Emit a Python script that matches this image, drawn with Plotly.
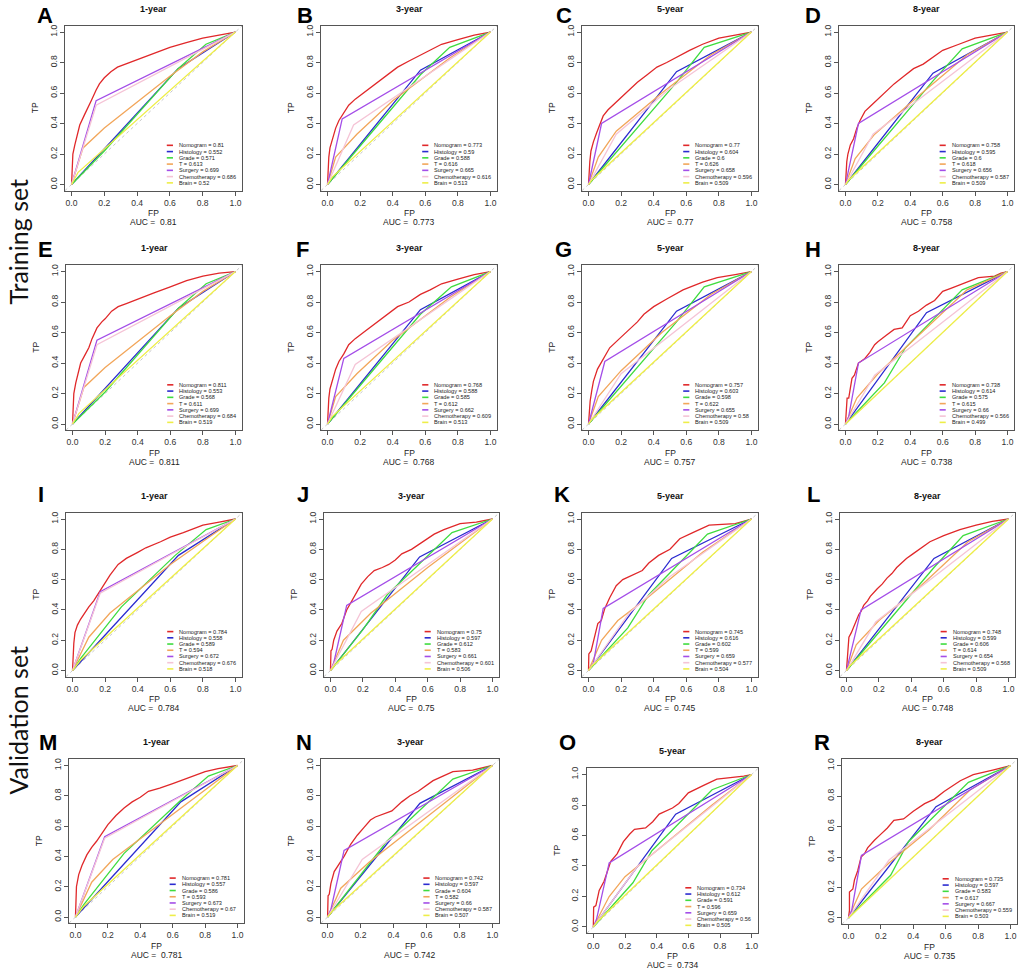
import plotly.graph_objects as go

# ---------------- data ----------------
series_names = ["Nomogram", "Histology", "Grade", "T", "Surgery", "Chemotherapy", "Brain"]
years = ["1-year", "3-year", "5-year", "8-year"]
panel_ids = ["A", "B", "C", "D", "E", "F", "G", "H", "I", "J", "K", "L", "M", "N", "O", "R"]
tick_vals = [0, 0.2, 0.4, 0.6, 0.8, 1.0]
tick_text = ["0.0", "0.2", "0.4", "0.6", "0.8", "1.0"]

auc_A = [0.81, 0.552, 0.571, 0.613, 0.699, 0.686, 0.52]
auc_B = [0.773, 0.59, 0.588, 0.616, 0.665, 0.616, 0.513]
auc_C = [0.77, 0.604, 0.6, 0.626, 0.658, 0.596, 0.509]
auc_D = [0.758, 0.595, 0.6, 0.618, 0.656, 0.587, 0.509]
auc_E = [0.811, 0.553, 0.568, 0.611, 0.699, 0.684, 0.519]
auc_F = [0.768, 0.588, 0.585, 0.612, 0.662, 0.609, 0.513]
auc_G = [0.757, 0.603, 0.598, 0.622, 0.655, 0.58, 0.509]
auc_H = [0.738, 0.614, 0.575, 0.615, 0.66, 0.566, 0.499]
auc_I = [0.784, 0.558, 0.589, 0.594, 0.672, 0.676, 0.518]
auc_J = [0.75, 0.597, 0.612, 0.583, 0.661, 0.601, 0.506]
auc_K = [0.745, 0.616, 0.602, 0.599, 0.659, 0.577, 0.504]
auc_L = [0.748, 0.599, 0.606, 0.614, 0.654, 0.568, 0.509]
auc_M = [0.781, 0.557, 0.586, 0.593, 0.673, 0.67, 0.519]
auc_N = [0.742, 0.597, 0.604, 0.582, 0.66, 0.587, 0.507]
auc_O = [0.734, 0.612, 0.591, 0.596, 0.659, 0.56, 0.505]
auc_R = [0.735, 0.597, 0.583, 0.617, 0.667, 0.559, 0.503]

# ROC curves as (FP, TP) points
A_nom = [(0,0),(0.003,0.1),(0.008,0.2),(0.02,0.26),(0.035,0.33),(0.05,0.39),(0.08,0.46),(0.1,0.5),(0.12,0.55),(0.15,0.62),(0.17,0.66),(0.2,0.7),(0.24,0.74),(0.28,0.77),(0.33,0.79),(0.4,0.82),(0.5,0.86),(0.6,0.9),(0.7,0.93),(0.8,0.96),(0.9,0.98),(1,1)]
A_his = [(0,0),(0.65,0.76),(1,1)]
A_gra = [(0,0),(0.2,0.22),(0.65,0.76),(0.82,0.92),(1,1)]
A_t = [(0,0),(0.07,0.24),(0.2,0.37),(0.6,0.71),(0.8,0.87),(1,1)]
A_sur = [(0,0),(0.15,0.55),(1,1)]
A_che = [(0,0),(0.15,0.52),(1,1)]
A_bra = [(0,0),(0.04,0.08),(1,1)]

B_nom = [(0,0),(0.003,0.1),(0.008,0.18),(0.015,0.24),(0.03,0.3),(0.05,0.37),(0.07,0.42),(0.1,0.47),(0.13,0.52),(0.17,0.56),(0.22,0.6),(0.27,0.64),(0.32,0.68),(0.38,0.73),(0.43,0.77),(0.5,0.81),(0.57,0.85),(0.63,0.88),(0.7,0.92),(0.8,0.95),(0.9,0.98),(1,1)]
B_his = [(0,0),(0.57,0.75),(1,1)]
B_gra = [(0,0),(0.57,0.72),(0.75,0.9),(1,1)]
B_t = [(0,0),(0.05,0.18),(0.18,0.33),(0.4,0.55),(0.75,0.83),(1,1)]
B_sur = [(0,0),(0.09,0.43),(1,1)]
B_che = [(0,0),(0.16,0.39),(1,1)]
B_bra = [(0,0),(0.03,0.05),(1,1)]

C_nom = [(0,0),(0.003,0.08),(0.008,0.15),(0.015,0.22),(0.03,0.28),(0.05,0.34),(0.07,0.4),(0.09,0.45),(0.12,0.49),(0.16,0.53),(0.2,0.57),(0.25,0.62),(0.3,0.67),(0.36,0.72),(0.42,0.77),(0.48,0.8),(0.55,0.84),(0.62,0.88),(0.7,0.92),(0.8,0.96),(0.9,0.98),(1,1)]
C_his = [(0,0),(0.54,0.74),(1,1)]
C_gra = [(0,0),(0.54,0.67),(0.71,0.9),(1,1)]
C_t = [(0,0),(0.06,0.18),(0.17,0.35),(0.45,0.6),(0.75,0.85),(1,1)]
C_sur = [(0,0),(0.08,0.4),(1,1)]
C_che = [(0,0),(0.17,0.33),(0.5,0.63),(1,1)]
C_bra = [(0,0),(0.02,0.03),(1,1)]

D_nom = [(0,0),(0.003,0.08),(0.008,0.15),(0.015,0.2),(0.03,0.26),(0.05,0.3),(0.07,0.37),(0.09,0.42),(0.12,0.48),(0.16,0.52),(0.2,0.56),(0.25,0.61),(0.3,0.66),(0.36,0.71),(0.42,0.76),(0.48,0.79),(0.55,0.84),(0.6,0.88),(0.7,0.92),(0.8,0.96),(0.9,0.98),(1,1)]
D_his = [(0,0),(0.54,0.73),(1,1)]
D_gra = [(0,0),(0.54,0.68),(0.72,0.89),(1,1)]
D_t = [(0,0),(0.06,0.17),(0.18,0.33),(0.45,0.58),(0.75,0.85),(1,1)]
D_sur = [(0,0),(0.08,0.4),(1,1)]
D_che = [(0,0),(0.17,0.33),(1,1)]
D_bra = [(0,0),(0.02,0.03),(1,1)]

E_nom = [(0,0),(0.003,0.1),(0.008,0.2),(0.02,0.27),(0.035,0.34),(0.05,0.4),(0.08,0.46),(0.1,0.5),(0.12,0.56),(0.15,0.63),(0.18,0.67),(0.2,0.69),(0.24,0.74),(0.28,0.77),(0.33,0.79),(0.4,0.82),(0.5,0.86),(0.6,0.9),(0.7,0.94),(0.8,0.97),(0.9,0.99),(1,1)]
E_his = [(0,0),(0.65,0.76),(1,1)]
E_gra = [(0,0),(0.2,0.21),(0.65,0.76),(0.82,0.92),(1,1)]
E_t = [(0,0),(0.07,0.24),(0.2,0.37),(0.6,0.71),(0.8,0.87),(1,1)]
E_sur = [(0,0),(0.15,0.55),(1,1)]
E_che = [(0,0),(0.15,0.52),(1,1)]
E_bra = [(0,0),(0.04,0.07),(1,1)]

F_nom = [(0,0),(0.003,0.09),(0.008,0.17),(0.015,0.23),(0.03,0.29),(0.05,0.36),(0.07,0.41),(0.1,0.46),(0.13,0.52),(0.17,0.56),(0.22,0.6),(0.27,0.64),(0.32,0.68),(0.38,0.73),(0.43,0.77),(0.5,0.8),(0.57,0.85),(0.63,0.88),(0.7,0.92),(0.8,0.95),(0.9,0.98),(1,1)]
F_his = [(0,0),(0.57,0.75),(1,1)]
F_gra = [(0,0),(0.57,0.72),(0.76,0.9),(1,1)]
F_t = [(0,0),(0.05,0.18),(0.18,0.33),(0.4,0.55),(0.75,0.83),(1,1)]
F_sur = [(0,0),(0.1,0.43),(1,1)]
F_che = [(0,0),(0.17,0.39),(1,1)]
F_bra = [(0,0),(0.03,0.05),(1,1)]

G_nom = [(0,0),(0.003,0.07),(0.01,0.15),(0.02,0.22),(0.03,0.28),(0.055,0.36),(0.08,0.41),(0.1,0.45),(0.13,0.5),(0.19,0.56),(0.25,0.62),(0.3,0.67),(0.34,0.72),(0.4,0.77),(0.48,0.82),(0.58,0.88),(0.7,0.93),(0.79,0.96),(0.9,0.98),(1,1)]
G_his = [(0,0),(0.54,0.74),(1,1)]
G_gra = [(0,0),(0.54,0.67),(0.71,0.9),(1,1)]
G_t = [(0,0),(0.06,0.18),(0.2,0.35),(0.45,0.6),(0.75,0.85),(1,1)]
G_sur = [(0,0),(0.1,0.41),(1,1)]
G_che = [(0,0),(0.2,0.33),(1,1)]
G_bra = [(0,0),(0.02,0.03),(1,1)]

H_nom = [(0,0),(0.005,0.07),(0.01,0.17),(0.02,0.17),(0.03,0.25),(0.04,0.3),(0.055,0.32),(0.07,0.37),(0.08,0.4),(0.12,0.43),(0.15,0.47),(0.18,0.52),(0.2,0.54),(0.25,0.58),(0.3,0.62),(0.35,0.63),(0.38,0.68),(0.4,0.71),(0.45,0.74),(0.5,0.78),(0.55,0.81),(0.6,0.87),(0.65,0.89),(0.7,0.91),(0.75,0.93),(0.82,0.96),(0.92,0.97),(0.96,0.99),(1,1)]
H_his = [(0,0),(0.5,0.73),(1,1)]
H_gra = [(0,0),(0.24,0.27),(0.37,0.5),(0.72,0.88),(1,1)]
H_t = [(0,0),(0.07,0.17),(0.2,0.33),(0.45,0.58),(0.75,0.88),(1,1)]
H_sur = [(0,0),(0.02,0.05),(0.08,0.4),(1,1)]
H_che = [(0,0),(0.18,0.32),(1,1)]
H_bra = [(0,0),(1,1)]

I_nom = [(0,0),(0.003,0.1),(0.008,0.18),(0.015,0.25),(0.03,0.3),(0.05,0.34),(0.08,0.39),(0.1,0.42),(0.13,0.46),(0.17,0.53),(0.2,0.58),(0.23,0.63),(0.28,0.7),(0.33,0.74),(0.4,0.78),(0.45,0.81),(0.54,0.85),(0.6,0.88),(0.68,0.91),(0.8,0.96),(0.9,0.98),(1,1)]
I_his = [(0,0),(0.65,0.76),(1,1)]
I_gra = [(0,0),(0.05,0.08),(0.3,0.42),(0.63,0.76),(0.82,0.93),(1,1)]
I_t = [(0,0),(0.1,0.22),(0.23,0.38),(0.6,0.7),(0.85,0.89),(1,1)]
I_sur = [(0,0),(0.17,0.52),(1,1)]
I_che = [(0,0),(0.17,0.51),(1,1)]
I_bra = [(0,0),(0.05,0.07),(1,1)]

J_nom = [(0,0),(0.003,0.13),(0.01,0.14),(0.02,0.2),(0.04,0.26),(0.07,0.31),(0.1,0.4),(0.13,0.46),(0.16,0.52),(0.19,0.57),(0.23,0.62),(0.27,0.66),(0.32,0.68),(0.36,0.7),(0.4,0.73),(0.44,0.77),(0.5,0.8),(0.54,0.83),(0.6,0.87),(0.64,0.9),(0.7,0.93),(0.8,0.97),(0.9,0.98),(1,1)]
J_his = [(0,0),(0.55,0.75),(1,1)]
J_gra = [(0,0),(0.2,0.27),(0.35,0.5),(0.75,0.91),(1,1)]
J_t = [(0,0),(0.08,0.2),(0.25,0.38),(0.6,0.68),(1,1)]
J_sur = [(0,0),(0.02,0.05),(0.1,0.43),(1,1)]
J_che = [(0,0),(0.19,0.39),(1,1)]
J_bra = [(0,0),(0.03,0.04),(1,1)]

K_nom = [(0,0),(0.002,0.11),(0.016,0.13),(0.037,0.22),(0.057,0.31),(0.078,0.33),(0.1,0.41),(0.13,0.48),(0.17,0.56),(0.21,0.6),(0.27,0.63),(0.33,0.66),(0.37,0.71),(0.43,0.76),(0.5,0.8),(0.56,0.87),(0.64,0.91),(0.74,0.96),(0.9,0.97),(1,1)]
K_his = [(0,0),(0.51,0.74),(1,1)]
K_gra = [(0,0),(0.24,0.28),(0.37,0.5),(0.73,0.9),(1,1)]
K_t = [(0,0),(0.08,0.2),(0.18,0.33),(0.35,0.47),(0.7,0.78),(1,1)]
K_sur = [(0,0),(0.03,0.05),(0.09,0.41),(1,1)]
K_che = [(0,0),(0.25,0.38),(0.5,0.62),(1,1)]
K_bra = [(0,0),(0.02,0.03),(1,1)]

L_nom = [(0,0),(0.003,0.05),(0.01,0.16),(0.015,0.22),(0.03,0.25),(0.045,0.29),(0.06,0.33),(0.076,0.37),(0.09,0.39),(0.106,0.43),(0.13,0.46),(0.147,0.49),(0.19,0.54),(0.22,0.57),(0.25,0.61),(0.28,0.64),(0.31,0.68),(0.37,0.74),(0.41,0.77),(0.45,0.8),(0.515,0.85),(0.6,0.89),(0.7,0.93),(0.8,0.96),(0.9,0.985),(1,1)]
L_his = [(0,0),(0.54,0.74),(1,1)]
L_gra = [(0,0),(0.54,0.68),(0.72,0.89),(1,1)]
L_t = [(0,0),(0.06,0.17),(0.2,0.33),(0.45,0.55),(0.75,0.85),(1,1)]
L_sur = [(0,0),(0.09,0.4),(1,1)]
L_che = [(0,0),(0.18,0.32),(1,1)]
L_bra = [(0,0),(0.02,0.03),(1,1)]

M_nom = [(0,0),(0.003,0.1),(0.006,0.2),(0.02,0.28),(0.04,0.34),(0.07,0.41),(0.1,0.46),(0.13,0.5),(0.17,0.56),(0.2,0.61),(0.25,0.67),(0.3,0.72),(0.35,0.76),(0.4,0.79),(0.45,0.83),(0.52,0.85),(0.6,0.88),(0.7,0.92),(0.8,0.96),(0.88,0.98),(1,1)]
M_his = [(0,0),(0.65,0.76),(1,1)]
M_gra = [(0,0),(0.05,0.08),(0.3,0.42),(0.65,0.77),(0.82,0.93),(1,1)]
M_t = [(0,0),(0.1,0.23),(0.23,0.38),(0.6,0.68),(0.85,0.88),(1,1)]
M_sur = [(0,0),(0.18,0.53),(1,1)]
M_che = [(0,0),(0.18,0.52),(1,1)]
M_bra = [(0,0),(0.05,0.07),(1,1)]

N_nom = [(0,0),(0.003,0.14),(0.01,0.15),(0.02,0.22),(0.04,0.3),(0.07,0.35),(0.1,0.4),(0.14,0.48),(0.18,0.54),(0.22,0.59),(0.26,0.64),(0.29,0.66),(0.34,0.68),(0.39,0.7),(0.45,0.76),(0.5,0.8),(0.55,0.83),(0.6,0.87),(0.64,0.9),(0.7,0.93),(0.76,0.96),(0.88,0.97),(1,1)]
N_his = [(0,0),(0.56,0.75),(1,1)]
N_gra = [(0,0),(0.2,0.28),(0.36,0.5),(0.76,0.91),(1,1)]
N_t = [(0,0),(0.08,0.19),(0.25,0.36),(0.6,0.66),(1,1)]
N_sur = [(0,0),(0.02,0.05),(0.1,0.44),(1,1)]
N_che = [(0,0),(0.21,0.38),(1,1)]
N_bra = [(0,0),(0.03,0.04),(1,1)]

O_nom = [(0,0),(0.002,0.13),(0.016,0.14),(0.037,0.24),(0.068,0.3),(0.088,0.37),(0.11,0.43),(0.15,0.48),(0.19,0.56),(0.23,0.61),(0.26,0.64),(0.33,0.65),(0.375,0.69),(0.416,0.74),(0.5,0.78),(0.54,0.81),(0.6,0.88),(0.7,0.93),(0.78,0.97),(0.95,0.99),(1,1)]
O_his = [(0,0),(0.52,0.74),(1,1)]
O_gra = [(0,0),(0.25,0.29),(0.37,0.5),(0.75,0.9),(1,1)]
O_t = [(0,0),(0.1,0.2),(0.2,0.33),(0.4,0.5),(0.75,0.8),(1,1)]
O_sur = [(0,0),(0.02,0.05),(0.1,0.42),(1,1)]
O_che = [(0,0),(0.28,0.4),(1,1)]
O_bra = [(0,0),(0.02,0.03),(1,1)]

R_nom = [(0,0),(0.006,0.05),(0.006,0.17),(0.027,0.19),(0.037,0.25),(0.057,0.31),(0.078,0.4),(0.098,0.42),(0.118,0.46),(0.16,0.51),(0.2,0.55),(0.24,0.59),(0.28,0.64),(0.34,0.65),(0.4,0.7),(0.47,0.75),(0.53,0.78),(0.59,0.83),(0.69,0.9),(0.77,0.94),(0.89,0.97),(1,1)]
R_his = [(0,0),(0.54,0.73),(1,1)]
R_gra = [(0,0),(0.26,0.28),(0.37,0.5),(0.74,0.89),(1,1)]
R_t = [(0,0),(0.08,0.19),(0.25,0.36),(0.5,0.58),(0.75,0.84),(1,1)]
R_sur = [(0,0),(0.02,0.05),(0.08,0.41),(1,1)]
R_che = [(0,0),(0.25,0.38),(1,1)]
R_bra = [(0,0),(1,1)]

curves = {
    "A": [A_nom, A_his, A_gra, A_t, A_sur, A_che, A_bra],
    "B": [B_nom, B_his, B_gra, B_t, B_sur, B_che, B_bra],
    "C": [C_nom, C_his, C_gra, C_t, C_sur, C_che, C_bra],
    "D": [D_nom, D_his, D_gra, D_t, D_sur, D_che, D_bra],
    "E": [E_nom, E_his, E_gra, E_t, E_sur, E_che, E_bra],
    "F": [F_nom, F_his, F_gra, F_t, F_sur, F_che, F_bra],
    "G": [G_nom, G_his, G_gra, G_t, G_sur, G_che, G_bra],
    "H": [H_nom, H_his, H_gra, H_t, H_sur, H_che, H_bra],
    "I": [I_nom, I_his, I_gra, I_t, I_sur, I_che, I_bra],
    "J": [J_nom, J_his, J_gra, J_t, J_sur, J_che, J_bra],
    "K": [K_nom, K_his, K_gra, K_t, K_sur, K_che, K_bra],
    "L": [L_nom, L_his, L_gra, L_t, L_sur, L_che, L_bra],
    "M": [M_nom, M_his, M_gra, M_t, M_sur, M_che, M_bra],
    "N": [N_nom, N_his, N_gra, N_t, N_sur, N_che, N_bra],
    "O": [O_nom, O_his, O_gra, O_t, O_sur, O_che, O_bra],
    "R": [R_nom, R_his, R_gra, R_t, R_sur, R_che, R_bra],
}
aucs = {"A": auc_A, "B": auc_B, "C": auc_C, "D": auc_D, "E": auc_E, "F": auc_F,
        "G": auc_G, "H": auc_H, "I": auc_I, "J": auc_J, "K": auc_K, "L": auc_L,
        "M": auc_M, "N": auc_N, "O": auc_O, "R": auc_R}

# ---------------- style / layout ----------------
W, H = 1022, 969
colors = ["#e0282a", "#2b2bd0", "#3fdc3f", "#f2a65a", "#a44ee8", "#f5c4d6", "#eeee48"]
FONT = "Liberation Sans, Arial, sans-serif"

# plot boxes in page pixels: left, right, top, bottom
boxes = {
    "A": (65, 242, 24, 189), "B": (321, 497, 24, 189), "C": (582, 758, 24, 189), "D": (839, 1014, 24, 189),
    "E": (66, 242, 264, 429), "F": (321, 497, 264, 429), "G": (582, 758, 264, 429), "H": (839, 1014, 264, 429),
    "I": (66, 242, 512, 676), "J": (324, 499, 512, 676), "K": (582, 758, 512, 676), "L": (840, 1015, 512, 676),
    "M": (69, 244, 759, 923), "N": (321, 499, 759, 923), "O": (587, 758, 768, 933), "R": (842, 1017, 759, 924),
}
letter_pos = {
    "A": (45, 14), "B": (305, 14), "C": (564, 14), "D": (813, 14),
    "E": (45, 248), "F": (302, 248), "G": (563, 248), "H": (813, 248),
    "I": (41, 494), "J": (303, 494), "K": (562, 494), "L": (813, 494),
    "M": (48, 742), "N": (304, 742), "O": (567, 742), "R": (822, 742),
}

fig = go.Figure()
annotations = []
shapes = []

def px(xp):
    return xp / W

def py(yp):
    return 1 - yp / H

for n, pid in enumerate(panel_ids, start=1):
    l, r, t, b = boxes[pid]
    xid = "x" if n == 1 else f"x{n}"
    yid = "y" if n == 1 else f"y{n}"
    xa = "xaxis" if n == 1 else f"xaxis{n}"
    ya = "yaxis" if n == 1 else f"yaxis{n}"
    tfs = 9.2 if pid == "O" else 8.6
    common = dict(range=[-0.04, 1.04], tickvals=tick_vals, ticktext=tick_text,
                  ticks="outside", ticklen=4, tickwidth=1, tickcolor="#555",
                  showline=True, mirror=True, linecolor="#555", linewidth=1,
                  showgrid=False, zeroline=False, fixedrange=True,
                  tickfont=dict(family=FONT, size=tfs, color="#333"))
    fig.update_layout(**{
        xa: dict(domain=[px(l), px(r)], anchor=yid, **common),
        ya: dict(domain=[py(b), py(t)], anchor=xid, tickangle=-90, **common),
    })

    # chance diagonal across the full box
    shapes.append(dict(type="line", xref=f"{xid} domain", yref=f"{yid} domain",
                       x0=0, y0=0, x1=1, y1=1,
                       line=dict(color="#c8c8c8", width=1, dash="dot"), layer="below"))

    for k, pts in enumerate(curves[pid]):
        fig.add_trace(go.Scatter(
            x=[p[0] for p in pts], y=[p[1] for p in pts], mode="lines",
            line=dict(color=colors[k], width=1.3), xaxis=xid, yaxis=yid,
            showlegend=False, hoverinfo="skip"))

    # legend (bottom-right, no box)
    auc = aucs[pid]
    for k, name in enumerate(series_names):
        yd = 0.275 - k * 0.038
        shapes.append(dict(type="line", xref=f"{xid} domain", yref=f"{yid} domain",
                           x0=0.575, x1=0.61, y0=yd, y1=yd,
                           line=dict(color=colors[k], width=1.6)))
        annotations.append(dict(xref=f"{xid} domain", yref=f"{yid} domain",
                                x=0.632, y=yd, xanchor="left", yanchor="middle",
                                text=f"{name} = {auc[k]}", showarrow=False,
                                font=dict(family=FONT, size=5.6, color="#222")))

    cx = (l + r) / 2
    cy = (t + b) / 2
    year = years[(n - 1) % 4]
    title_y = max(t - 17, 7.5)
    annotations += [
        dict(xref="paper", yref="paper", x=px(letter_pos[pid][0]), y=py(letter_pos[pid][1]),
             text=f"<b>{pid}</b>", showarrow=False, xanchor="center", yanchor="middle",
             font=dict(family=FONT, size=22, color="#000")),
        dict(xref="paper", yref="paper", x=px(cx), y=py(title_y), text=f"<b>{year}</b>",
             showarrow=False, xanchor="center", yanchor="middle",
             font=dict(family=FONT, size=9, color="#111")),
        dict(xref="paper", yref="paper", x=px(l - 30), y=py(cy), text="TP", textangle=-90,
             showarrow=False, xanchor="center", yanchor="middle",
             font=dict(family=FONT, size=8.5, color="#222")),
        dict(xref="paper", yref="paper", x=px(cx), y=py(b + 22.5), text="FP",
             showarrow=False, xanchor="center", yanchor="middle",
             font=dict(family=FONT, size=8.5, color="#222")),
        dict(xref="paper", yref="paper", x=px(cx), y=py(b + 31.5), text=f"AUC =  {auc[0]}",
             showarrow=False, xanchor="center", yanchor="middle",
             font=dict(family=FONT, size=8.5, color="#222")),
    ]

# row group labels
for label, yc in [("Training set", 240), ("Validation set", 720)]:
    annotations.append(dict(xref="paper", yref="paper", x=px(18), y=py(yc), text=label,
                            textangle=-90, showarrow=False, xanchor="center", yanchor="middle",
                            font=dict(family="Lato, Open Sans, sans-serif", size=25, color="#111")))

fig.update_layout(width=W, height=H, margin=dict(l=0, r=0, t=0, b=0),
                  paper_bgcolor="white", plot_bgcolor="white", showlegend=False,
                  hovermode=False, annotations=annotations, shapes=shapes)

fig.write_html("out.html", config={"displayModeBar": False},
               post_script="document.body.style.margin = '0px';")
